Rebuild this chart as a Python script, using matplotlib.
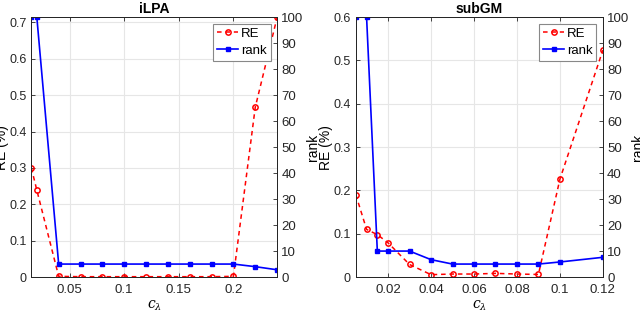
import numpy as np
import matplotlib.pyplot as plt

# iLPA panel
c_ilpa = [0.015, 0.02, 0.04, 0.06, 0.08, 0.10, 0.12, 0.14, 0.16, 0.18, 0.20, 0.22, 0.24]
re_ilpa = [0.30, 0.239, 0.002, 0.001, 0.001, 0.001, 0.001, 0.001, 0.001, 0.001, 0.002, 0.467, 0.714]
rank_ilpa = [100, 100, 5, 5, 5, 5, 5, 5, 5, 5, 5, 4, 2.8]

# subGM panel
c_subgm = [0.005, 0.01, 0.015, 0.02, 0.03, 0.04, 0.05, 0.06, 0.07, 0.08, 0.09, 0.10, 0.12]
re_subgm = [0.190, 0.110, 0.098, 0.079, 0.029, 0.0055, 0.007, 0.007, 0.0085, 0.007, 0.006, 0.226, 0.524]
rank_subgm = [100, 100, 10, 10, 10, 6.7, 5, 5, 5, 5, 5, 5.8, 7.6]

plt.rcParams['font.family'] = ['Liberation Sans', 'DejaVu Sans']
plt.rcParams['mathtext.fontset'] = 'dejavuserif'
AX = '#262626'
FS = 9


def panel(rect, title, c, re, rank, xlim, xticks, ylim, yticks, lab_x):
    ax = fig.add_axes(rect)
    ax2 = ax.twinx()
    l1, = ax.plot(c, re, 'r--o', lw=1.1, ms=3.8, mfc='none', mew=1.1, dashes=(3, 2.5))
    l2, = ax2.plot(c, rank, 'b-s', lw=1.2, ms=3.3)
    ax.set_xlim(xlim)
    ax.set_ylim(ylim)
    ax2.set_ylim(0, 100)
    ax.set_xticks(xticks)
    ax.set_xticklabels([('%g' % t) for t in xticks])
    ax.set_yticks(yticks)
    ax.set_yticklabels([('%g' % t) for t in yticks])
    ax2.set_yticks(np.arange(0, 101, 10))
    ax.grid(True, color='#e6e6e6', lw=0.8)
    ax.set_axisbelow(True)
    for a in (ax, ax2):
        a.tick_params(direction='in', length=3, width=0.6, colors=AX, labelsize=FS + 0.5, pad=3)
        for s in a.spines.values():
            s.set_color(AX)
            s.set_linewidth(0.7)
    ax.tick_params(axis='y', labelsize=FS, pad=3.5)
    ax.tick_params(axis='x', pad=5)
    ax.tick_params(top=True)
    ax.set_title(title, fontsize=FS + 1, fontweight='bold', color='black', pad=3)
    ax.set_xlabel(r'$c_\lambda$', fontsize=FS + 1, labelpad=2)
    ax.set_ylabel('RE (%)', fontsize=FS + 1)
    ax2.set_ylabel('rank', fontsize=FS + 1)
    ax.yaxis.set_label_coords(lab_x[0], 0.5)
    ax2.yaxis.set_label_coords(lab_x[1], 0.5)
    leg = ax2.legend([l1, l2], ['RE', 'rank'], loc='upper right', fontsize=FS + 0.5,
                     handlelength=1.6, handletextpad=0.2, borderpad=0.3,
                     labelspacing=0.35, fancybox=False, framealpha=1,
                     borderaxespad=0.5)
    leg.get_frame().set_edgecolor('#888888')
    leg.get_frame().set_linewidth(0.8)


fig = plt.figure(figsize=(6.4, 3.12), dpi=100)
panel([0.049, 0.112, 0.384, 0.833], 'iLPA', c_ilpa, re_ilpa, rank_ilpa,
      (0.015, 0.24), [0.05, 0.1, 0.15, 0.2], (0, 0.7145), np.arange(0, 0.71, 0.1),
      (-0.09, 1.117))
panel([0.556, 0.112, 0.386, 0.833], 'subGM', c_subgm, re_subgm, rank_subgm,
      (0.005, 0.12), [0.02, 0.04, 0.06, 0.08, 0.1, 0.12], (0, 0.6), np.arange(0, 0.61, 0.1),
      (-0.092, 1.114))
fig.savefig('out.png', dpi=100)
